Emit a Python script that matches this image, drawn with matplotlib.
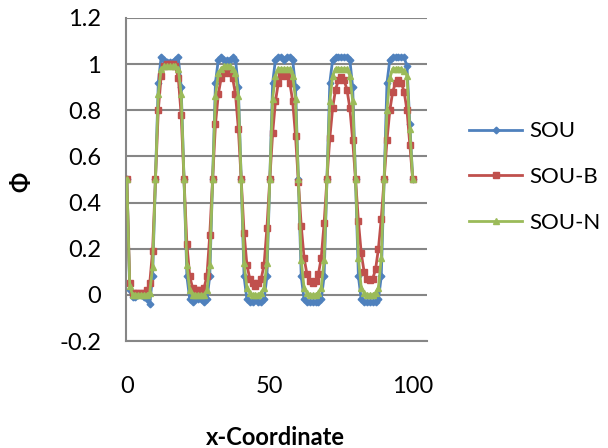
import matplotlib
matplotlib.use("Agg")
import matplotlib.pyplot as plt

plt.rcParams['font.family'] = ['Lato', 'DejaVu Sans']

x_coord = list(range(0, 101))

sou = [0.50, 0.02, -0.01, -0.01, 0.00, 0.00, -0.01, -0.02, -0.04, 0.08,
       0.50, 0.92, 1.03, 1.02, 1.01, 1.01, 1.01, 1.02, 1.03, 0.90,
       0.50, 0.08, -0.02, -0.03, -0.02, -0.02, -0.02, -0.03, -0.02, 0.08,
       0.50, 0.92, 1.02, 1.03, 1.02, 1.02, 1.02, 1.03, 1.02, 0.90,
       0.50, 0.08, -0.02, -0.03, -0.03, -0.02, -0.03, -0.03, -0.02, 0.08,
       0.50, 0.92, 1.02, 1.03, 1.03, 1.02, 1.03, 1.03, 1.02, 0.90,
       0.50, 0.08, -0.02, -0.03, -0.03, -0.03, -0.03, -0.03, -0.02, 0.08,
       0.50, 0.92, 1.02, 1.03, 1.03, 1.03, 1.03, 1.03, 1.02, 0.90,
       0.50, 0.08, -0.02, -0.03, -0.03, -0.03, -0.03, -0.03, -0.02, 0.08,
       0.50, 0.92, 1.02, 1.03, 1.03, 1.03, 1.03, 1.03, 0.99, 0.74,
       0.50]

sou_b = [0.50, 0.05, 0.01, 0.01, 0.01, 0.01, 0.01, 0.02, 0.05, 0.19,
         0.50, 0.80, 0.95, 0.99, 1.00, 1.00, 1.00, 0.99, 0.94, 0.78,
         0.50, 0.22, 0.08, 0.03, 0.02, 0.02, 0.02, 0.03, 0.08, 0.26,
         0.50, 0.74, 0.87, 0.94, 0.96, 0.97, 0.96, 0.94, 0.87, 0.72,
         0.50, 0.27, 0.13, 0.07, 0.05, 0.04, 0.05, 0.07, 0.13, 0.29,
         0.50, 0.70, 0.84, 0.92, 0.95, 0.96, 0.95, 0.92, 0.84, 0.69,
         0.49, 0.30, 0.16, 0.09, 0.06, 0.05, 0.06, 0.09, 0.16, 0.31,
         0.50, 0.68, 0.81, 0.89, 0.93, 0.945, 0.93, 0.89, 0.81, 0.67,
         0.50, 0.32, 0.18, 0.10, 0.07, 0.065, 0.07, 0.11, 0.20, 0.33,
         0.50, 0.67, 0.80, 0.88, 0.92, 0.93, 0.92, 0.88, 0.80, 0.65,
         0.50]

sou_n = [0.50, 0.04, 0.00, 0.00, 0.00, 0.00, 0.00, 0.00, 0.01, 0.12,
         0.50, 0.87, 0.98, 0.99, 0.99, 0.99, 0.99, 0.99, 0.98, 0.87,
         0.50, 0.13, 0.02, 0.00, 0.00, 0.00, 0.00, 0.00, 0.02, 0.13,
         0.50, 0.86, 0.96, 0.98, 0.99, 0.99, 0.99, 0.98, 0.96, 0.86,
         0.50, 0.14, 0.03, 0.01, 0.00, 0.00, 0.00, 0.01, 0.03, 0.14,
         0.50, 0.85, 0.95, 0.98, 0.98, 0.98, 0.98, 0.98, 0.95, 0.85,
         0.50, 0.15, 0.03, 0.01, 0.00, 0.00, 0.00, 0.01, 0.03, 0.15,
         0.50, 0.84, 0.95, 0.98, 0.98, 0.98, 0.98, 0.98, 0.95, 0.84,
         0.50, 0.16, 0.03, 0.01, 0.00, 0.00, 0.00, 0.01, 0.03, 0.16,
         0.50, 0.80, 0.94, 0.98, 0.98, 0.98, 0.98, 0.97, 0.95, 0.72,
         0.50]

series_names = ["SOU", "SOU-B", "SOU-N"]
y_ticks = [-0.2, 0, 0.2, 0.4, 0.6, 0.8, 1, 1.2]
y_tick_labels = ["-0.2", "0", "0.2", "0.4", "0.6", "0.8", "1", "1.2"]
x_ticks = [0, 50, 100]
x_tick_labels = ["0", "50", "100"]

fig = plt.figure(figsize=(6.08, 4.48), dpi=100)
ax = fig.add_axes([126/608, 1 - 341/448, (427 - 126)/608, (341 - 18)/448])

ax.plot(x_coord, sou, color="#4F81BD", lw=2.0, marker="D", ms=3.4,
        label=series_names[0], zorder=3)
ax.plot(x_coord, sou_b, color="#C0504D", lw=2.0, marker="s", ms=5.0,
        label=series_names[1], zorder=4)
ax.plot(x_coord, sou_n, color="#9BBB59", lw=2.0, marker="^", ms=4.5,
        label=series_names[2], zorder=5)

ax.set_xlim(-0.3, 105)
ax.set_ylim(-0.2, 1.2)
ax.set_yticks(y_ticks)
ax.set_yticklabels(y_tick_labels)
ax.set_xticks(x_ticks)
ax.set_xticklabels(x_tick_labels)
ax.yaxis.grid(True, color="#868686", lw=1.5)
ax.set_axisbelow(True)
for s in ["top", "right"]:
    ax.spines[s].set_visible(False)
for s in ["left", "bottom"]:
    ax.spines[s].set_color("#868686")
    ax.spines[s].set_linewidth(1.5)
ax.tick_params(axis="y", length=0, pad=18, labelsize=17)
ax.tick_params(axis="x", length=0, pad=25, labelsize=17)

fig.text(275/608, 1 - 437/448, "x-Coordinate", ha="center", va="center",
         fontsize=17, fontweight="bold")
fig.text(22/608, 1 - 182/448, "Φ", ha="center", va="center", rotation=90,
         fontsize=17, fontweight="bold")

leg = fig.legend(loc="center left", bbox_to_anchor=(460/608, 1 - 177/448),
                 frameon=False, fontsize=16, handlelength=2.4,
                 labelspacing=1.15, handletextpad=0.3, borderaxespad=0)

fig.savefig("out.png", dpi=100)
